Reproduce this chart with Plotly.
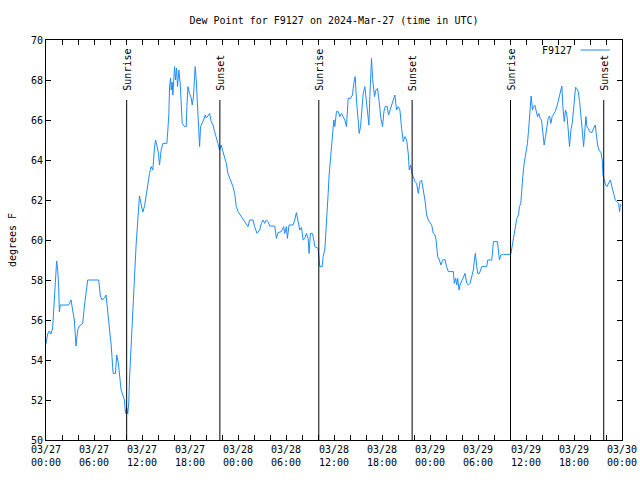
import pandas as pd
import plotly.graph_objects as go

# ---- data (hours since 2024-03-27 00:00 UTC, dew point in F) ----
hours = [
    0.00, 0.20, 0.41, 0.62, 0.83, 1.04, 1.16, 1.33, 1.46, 1.58, 1.67, 1.79, 2.83, 3.13, 3.33, 3.54,
    3.75, 3.96, 4.17, 4.59, 4.80, 5.00, 5.21, 6.59, 6.80, 7.01, 7.30, 7.51, 7.63, 7.84, 8.01, 8.14,
    8.26, 8.39, 8.68, 8.84, 9.05, 9.26, 9.39, 9.60, 9.80, 9.93, 10.10, 10.22, 10.35, 10.43, 10.60,
    10.76, 10.93, 11.06, 11.27, 11.47, 11.68, 11.89, 12.10, 12.31, 12.52, 12.73, 12.94, 13.14, 13.35,
    13.56, 13.69, 13.85, 14.06, 14.19, 14.40, 14.61, 15.11, 15.23, 15.36, 15.44, 15.57, 15.65, 15.77,
    15.86, 15.98, 16.07, 16.19, 16.32, 16.44, 16.61, 16.78, 16.90, 17.03, 17.32, 17.53, 17.61, 17.74,
    17.94, 18.15, 18.28, 18.45, 18.57, 18.65, 18.78, 18.90, 19.03, 19.20, 19.32, 19.53, 19.70, 19.91,
    20.03, 20.24, 20.45, 20.66, 20.87, 21.08, 21.28, 21.49, 21.70, 21.91, 22.12, 22.33, 22.54, 22.74,
    22.95, 23.16, 23.37, 23.58, 23.79, 24.00,
    24.41, 24.83, 25.04, 25.25, 25.46, 25.88, 26.08, 26.38, 26.71, 26.92, 27.13, 27.34, 27.54, 27.75,
    27.96, 28.59, 28.80, 29.00, 29.42, 29.71, 29.84, 30.05, 30.17, 30.38, 30.88, 31.09, 31.30, 31.51,
    31.72, 31.93, 32.14, 32.35, 32.55, 32.76, 32.89, 33.05, 33.30, 33.47, 33.60, 34.01, 34.14, 34.22,
    34.52, 34.64, 34.85, 34.97, 35.14, 35.27, 35.39, 35.56, 35.68, 35.81, 35.98, 36.10, 36.31, 36.52,
    36.73, 36.94, 37.14, 37.35, 37.56, 37.77, 38.06, 38.31, 38.48, 38.65, 38.81, 38.98, 39.15, 39.32,
    39.48, 39.65, 39.86, 40.07, 40.23, 40.36, 40.48, 40.61, 40.69, 40.82, 40.94, 41.07, 41.24, 41.44,
    41.65, 41.86, 42.07, 42.24, 42.40, 42.65, 42.82, 42.99, 43.20, 43.41, 43.61, 43.82, 44.03, 44.24,
    44.45, 44.66, 44.87, 45.08, 45.28, 45.41, 45.58, 45.74, 45.91, 46.12, 46.33, 46.54, 46.75, 46.95,
    47.16, 47.37, 47.58, 47.79,
    48.00, 48.21, 48.41, 48.62, 48.75, 48.83, 48.96, 49.17, 49.37, 49.58, 49.87, 50.08, 50.29, 50.92,
    51.04, 51.21, 51.34, 51.46, 51.63, 51.75, 51.96, 52.17, 52.38, 52.59, 52.80, 53.00, 53.21, 53.42,
    53.55, 53.67, 53.84, 53.97, 54.17, 54.34, 54.47, 55.09, 55.22, 55.72, 55.84, 55.93, 56.43, 56.55,
    56.68, 56.85, 57.18, 58.10, 58.22, 58.43, 58.64, 58.85, 59.06, 59.18, 59.35, 59.47, 59.60, 59.77,
    59.89, 60.02, 60.18, 60.31, 60.43, 60.52, 60.64, 60.81, 60.94, 61.10, 61.27, 61.44, 61.60, 61.77,
    61.94, 62.10, 62.27, 62.44, 62.61, 62.77, 62.94, 63.11, 63.27, 63.44, 63.65, 63.86, 64.02, 64.19,
    64.36, 64.48, 64.61, 64.78, 64.94, 65.11, 65.28, 65.44, 65.61, 65.78, 65.94, 66.07, 66.19, 66.36,
    66.53, 66.70, 66.86, 67.03, 67.20, 67.36, 67.49, 67.61, 67.78, 67.95, 68.24, 68.45, 68.66, 68.78,
    68.95, 69.12, 69.37, 69.53, 69.62, 69.78, 69.95, 70.12, 70.33, 70.54, 70.74, 70.95, 71.16, 71.37,
    71.58, 71.70, 71.79, 71.91,
]
dewpoint = [
    54.80, 55.30, 55.45, 55.30, 55.60, 56.80, 58.00, 58.95, 58.50, 57.70, 56.40, 56.75, 56.75, 57.00, 56.50, 56.00,
    54.70, 55.50, 55.70, 55.83, 56.70, 57.30, 58.00, 58.00, 57.20, 57.00, 57.10, 57.25, 56.70, 56.00, 55.25, 54.80,
    53.83, 53.33, 53.33, 54.25, 53.83, 53.00, 52.50, 52.25, 52.00, 51.33, 51.60, 51.30, 51.90, 53.00, 54.20,
    55.50, 56.80, 58.10, 59.80, 61.20, 62.20, 61.80, 61.40, 61.67, 62.30, 62.75, 63.33, 63.67, 63.50,
    64.60, 65.00, 64.75, 64.33, 63.75, 64.50, 64.83, 64.83, 65.50, 66.33, 67.60, 68.10, 67.50, 67.90,
    67.25, 68.33, 68.67, 68.00, 68.60, 67.67, 68.50, 67.80, 67.00, 65.83, 65.67, 65.67, 66.67, 67.67,
    67.33, 67.10, 66.75, 67.25, 68.17, 68.67, 68.00, 67.10, 66.17, 64.67, 65.67, 65.83, 66.00, 66.25,
    66.10, 66.20, 66.33, 65.92, 65.75, 65.42, 65.17, 64.83, 64.50, 64.75, 64.42, 64.17, 63.83, 63.33,
    63.10, 62.83, 62.67, 62.33, 61.67, 61.42,
    61.17, 60.92, 60.75, 60.67, 61.00, 61.00, 60.67, 60.33, 60.50, 60.83, 61.00, 60.83, 61.00, 60.92,
    60.70, 60.70, 60.08, 60.37, 60.42, 60.67, 60.33, 60.67, 60.08, 60.75, 60.75, 61.00, 61.37, 60.92,
    60.50, 60.63, 60.00, 60.08, 60.33, 60.08, 59.33, 60.33, 60.33, 60.00, 59.67, 59.58, 58.90, 58.67,
    58.67, 59.17, 59.50, 60.17, 61.33, 62.33, 63.25, 64.17, 64.83, 65.58, 66.00, 65.67, 66.42, 66.42,
    66.17, 66.33, 66.20, 66.00, 65.67, 67.08, 67.08, 67.25, 67.83, 68.17, 67.00, 66.17, 65.33, 65.67,
    66.50, 67.33, 67.67, 66.83, 66.17, 65.75, 67.17, 68.67, 69.08, 68.08, 67.67, 67.17, 67.50, 67.58,
    66.92, 66.08, 65.67, 66.42, 66.67, 66.67, 66.25, 66.50, 66.75, 67.00, 67.25, 66.50, 66.67, 66.50,
    65.58, 64.92, 65.17, 65.00, 64.33, 63.50, 63.75, 63.33, 63.17, 62.92, 62.83, 62.33, 62.92, 63.00,
    62.50, 62.00, 61.25, 61.00,
    60.87, 60.75, 60.33, 60.25, 60.03, 59.58, 59.17, 59.00, 58.75, 59.00, 59.03, 58.67, 58.42, 58.42,
    57.83, 58.08, 57.75, 58.08, 57.50, 57.75, 57.92, 58.17, 58.33, 57.83, 57.75, 57.83, 58.17, 58.50,
    59.00, 59.33, 58.67, 58.33, 58.33, 58.58, 58.67, 58.67, 59.00, 59.00, 59.67, 59.92, 59.92, 59.42,
    59.00, 59.25, 59.28, 59.28, 59.58, 60.08, 60.50, 61.08, 61.25, 61.67, 61.83, 62.67, 63.17, 63.83,
    64.08, 64.50, 64.83, 65.42, 66.08, 66.67, 67.20, 66.50, 66.67, 66.75, 66.50, 66.17, 66.33, 66.08,
    66.00, 65.33, 64.75, 65.17, 65.67, 66.08, 66.20, 65.83, 66.17, 66.30, 66.42, 66.67, 66.92, 67.17,
    67.50, 67.70, 66.67, 65.92, 66.50, 66.25, 65.50, 64.67, 65.50, 65.83, 66.50, 67.17, 67.63, 67.58,
    67.42, 66.92, 66.33, 65.50, 64.67, 65.67, 66.17, 65.67, 65.58, 65.42, 65.37, 65.58, 65.75, 65.33,
    64.75, 64.50, 64.37, 64.00, 63.25, 63.00, 62.75, 62.67, 62.83, 63.00, 62.67, 62.33, 62.00, 61.92,
    61.83, 61.42, 61.75, 61.80,
]
sunrise = ["2024-03-27 10:05", "2024-03-28 10:06", "2024-03-29 10:04"]
sunset = ["2024-03-27 21:44", "2024-03-28 21:46", "2024-03-29 21:43"]
station = "F9127"
title = "Dew Point for F9127 on 2024-Mar-27 (time in UTC)"
y_ticks = list(range(50, 71, 2))

times = pd.Timestamp("2024-03-27 00:00") + pd.to_timedelta(hours, unit="h")

FONT = "DejaVu Sans Mono"
LINE_COLOR = "#1e8cff"

fig = go.Figure()
fig.add_trace(go.Scatter(x=times, y=dewpoint, mode="lines", name=station,
                         line=dict(color=LINE_COLOR, width=1), showlegend=False))

# sunrise / sunset markers
for label, tlist in (("Sunrise", sunrise), ("Sunset", sunset)):
    for t in tlist:
        fig.add_shape(type="line", xref="x", yref="y", x0=t, x1=t, y0=50, y1=67,
                      line=dict(color="black", width=1))
        fig.add_annotation(x=t, y=67, xref="x", yref="y", text=label, showarrow=False,
                           textangle=-90, xanchor="center", yanchor="bottom", yshift=7,
                           font=dict(family=FONT, size=10, color="black"))

# legend imitation (gnuplot style: text then sample line)
fig.add_annotation(xref="paper", yref="paper", x=0.917, y=0.975, text=station,
                   showarrow=False, xanchor="right", yanchor="middle",
                   font=dict(family=FONT, size=10, color="black"))
fig.add_shape(type="line", xref="paper", yref="paper", x0=0.928, x1=0.979, y0=0.975, y1=0.975,
              line=dict(color=LINE_COLOR, width=1))

fig.update_layout(
    width=640, height=480,
    margin=dict(l=46, r=18, t=40, b=40),
    paper_bgcolor="white", plot_bgcolor="white",
    font=dict(family=FONT, size=10, color="black"),
    title=dict(text=title, x=0.5, xref="paper", xanchor="center", y=0.958, yanchor="middle",
               font=dict(family=FONT, size=10, color="black")),
)
fig.update_xaxes(
    range=["2024-03-27 00:00", "2024-03-30 00:00"],
    tickformat="%m/%d<br>%H:%M", dtick=6 * 3600 * 1000, tick0="2024-03-27 00:00",
    ticks="inside", ticklen=5, tickcolor="black",
    minor=dict(dtick=2 * 3600 * 1000, ticks="inside", ticklen=5, tickcolor="black", showgrid=False),
    showline=True, linecolor="black", linewidth=1, mirror="ticks",
    showgrid=False, zeroline=False, automargin=False,
    tickfont=dict(family=FONT, size=10, color="black"),
)
fig.update_yaxes(
    range=[50, 70], tickvals=y_ticks,
    ticks="inside", ticklen=5, tickcolor="black",
    showline=True, linecolor="black", linewidth=1, mirror="ticks",
    showgrid=False, zeroline=False, automargin=False,
    title=dict(text="degrees F", font=dict(family=FONT, size=10, color="black"), standoff=12),
    tickfont=dict(family=FONT, size=10, color="black"),
)

fig.write_html("out.html")
